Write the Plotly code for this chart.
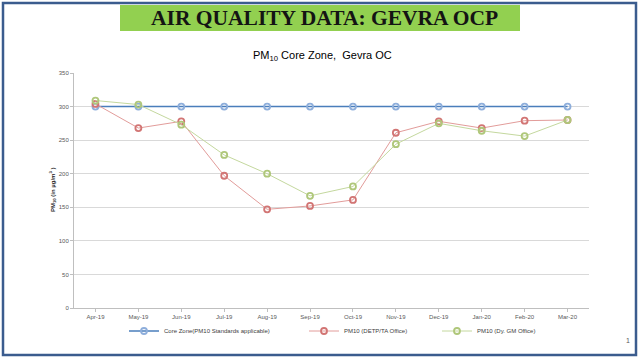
import plotly.graph_objects as go

months = ["Apr-19", "May-19", "Jun-19", "Jul-19", "Aug-19", "Sep-19",
          "Oct-19", "Nov-19", "Dec-19", "Jan-20", "Feb-20", "Mar-20"]
core_zone = [300, 300, 300, 300, 300, 300, 300, 300, 300, 300, 300, 300]
detp_ta = [304, 268, 278, 197, 147, 152, 161, 261, 278, 268, 279, 280]
dy_gm = [309, 303, 273, 228, 200, 167, 181, 244, 275, 264, 256, 280]
y_ticks = [0, 50, 100, 150, 200, 250, 300, 350]

W, H = 640, 360
def px(x):
    return x / W
def py(y):
    return 1 - y / H

fig = go.Figure()
fig.add_trace(go.Scatter(
    x=months, y=core_zone, mode="lines+markers",
    name="Core Zone(PM10 Standards applicable)", legend="legend",
    line=dict(color="#4A7EBB", width=1.5),
    marker=dict(symbol="circle-open", size=6, color="#8EAEDB", line=dict(width=1.8))))
fig.add_trace(go.Scatter(
    x=months, y=detp_ta, mode="lines+markers",
    name="PM10 (DETP/TA Office)", legend="legend2",
    line=dict(color="#E29C9A", width=1),
    marker=dict(symbol="circle-open", size=6, color="#D27574", line=dict(width=1.8))))
fig.add_trace(go.Scatter(
    x=months, y=dy_gm, mode="lines+markers",
    name="PM10 (Dy. GM Office)", legend="legend3",
    line=dict(color="#C4D89E", width=1),
    marker=dict(symbol="circle-open", size=6, color="#AFC77A", line=dict(width=1.8))))

tick_font = dict(family="Liberation Sans", size=6, color="#595959")
legend_font = dict(family="Liberation Sans", size=6, color="#404040")

def legend_at(xpos):
    return dict(orientation="h", x=px(xpos), xanchor="left", y=py(331), yanchor="middle",
                font=legend_font, itemwidth=30, bgcolor="rgba(0,0,0,0)",
                borderwidth=0)

fig.update_layout(
    width=W, height=H,
    margin=dict(l=0, r=0, t=0, b=0, autoexpand=False),
    paper_bgcolor="white", plot_bgcolor="white",
    showlegend=True,
    xaxis=dict(domain=[px(74), px(589)], type="category", range=[-0.5, 11.5],
               showgrid=False, showline=True, linecolor="#BFBFBF", linewidth=1,
               ticks="outside", ticklen=3, tickcolor="#BFBFBF",
               tickfont=tick_font, fixedrange=True),
    yaxis=dict(domain=[py(308), py(73)], range=[0, 350], tickvals=y_ticks,
               showgrid=True, gridcolor="#D9D9D9", gridwidth=1,
               showline=True, linecolor="#BFBFBF", linewidth=1,
               ticks="outside", ticklen=3, tickcolor="#BFBFBF",
               tickfont=tick_font, zeroline=False),
    legend=legend_at(124),
    legend2=legend_at(304),
    legend3=legend_at(437),
    shapes=[
        dict(type="rect", xref="paper", yref="paper", x0=px(3), x1=px(636), y0=py(355), y1=py(3),
             line=dict(color="#3B5C8E", width=2.5), fillcolor="rgba(0,0,0,0)", layer="above"),
        dict(type="rect", xref="paper", yref="paper", x0=px(120), x1=px(520), y0=py(31), y1=py(5),
             line=dict(width=0), fillcolor="#92D050", layer="below"),
    ],
    annotations=[
        dict(text="<b>AIR QUALITY DATA: GEVRA OCP</b>", xref="paper", yref="paper",
             x=px(324), y=py(18), xanchor="center", yanchor="middle", showarrow=False,
             font=dict(family="Liberation Serif", size=21.5, color="#141414")),
        dict(text="PM<sub>10</sub> Core Zone,  Gevra OC", xref="paper", yref="paper",
             x=px(322), y=py(56), xanchor="center", yanchor="middle", showarrow=False,
             font=dict(family="Liberation Sans", size=11, color="#000000")),
        dict(text="<b>PM<sub>10</sub> (in µg/m<sup>3</sup> )</b>", xref="paper", yref="paper",
             x=px(52), y=py(190), xanchor="center", yanchor="middle", showarrow=False,
             textangle=-90, font=dict(family="Liberation Sans", size=6, color="#262626")),
        dict(text="1", xref="paper", yref="paper", x=px(628), y=py(340),
             xanchor="center", yanchor="middle", showarrow=False,
             font=dict(family="Liberation Sans", size=7, color="#595959")),
    ],
)

fig.write_html("out.html", config={"displayModeBar": False},
               post_script="document.body.style.margin='0';")
